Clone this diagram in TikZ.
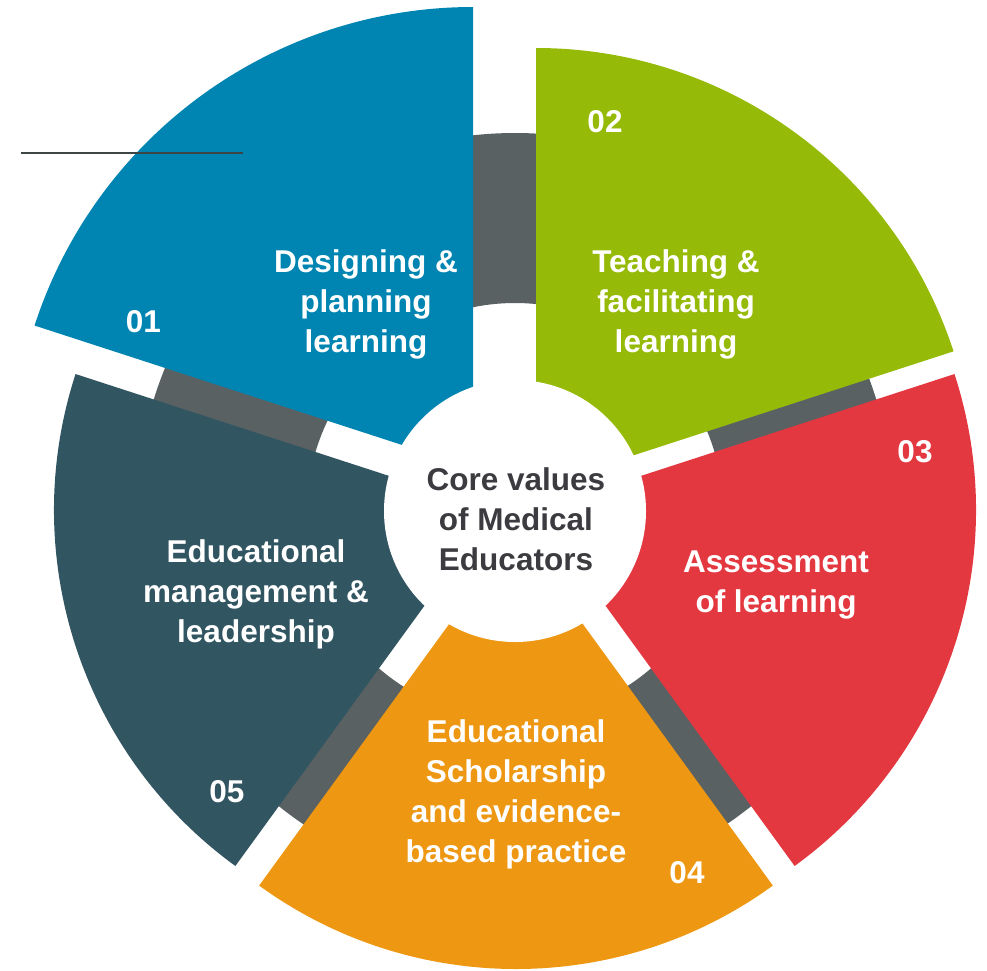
\documentclass[tikz,border=0pt]{standalone}
\usepackage{fontspec}
\setmainfont{Liberation Sans}
\definecolor{cblue}{HTML}{0085B2}
\definecolor{cgreen}{HTML}{96BA08}
\definecolor{cred}{HTML}{E43841}
\definecolor{corange}{HTML}{EE9712}
\definecolor{cteal}{HTML}{325562}
\definecolor{cgray}{HTML}{596163}
\definecolor{ctext}{HTML}{3B3B40}
\definecolor{cline}{HTML}{3D4545}
\begin{document}
\begin{tikzpicture}[x=1pt,y=-1pt,
  lbl/.style={text=white, font=\bfseries\fontsize{31.5}{40}\selectfont, align=center, inner sep=0pt, anchor=base},
  num/.style={text=white, font=\bfseries\fontsize{31.5}{40}\selectfont, inner sep=0pt, anchor=base}]
\useasboundingbox (0,0) rectangle (987,970);
\coordinate (C) at (515,511);
% gray ring behind the sectors
\fill[cgray, even odd rule] (C) circle[radius=378] (C) circle[radius=208];
% sectors (y axis points down, so visual angles are negated)
\coordinate (Pb) at (473,468);
\coordinate (Pg) at (536,487);
\coordinate (Pr) at (536,510);
\coordinate (Po) at (516,532);
\coordinate (Pt) at (494,510);
\fill[cblue]   (Pb) -- ++(-90:461)  arc[start angle=-90,  end angle=-162, radius=461] -- cycle;
\fill[cgreen]  (Pg) -- ++(-18:439)  arc[start angle=-18,  end angle=-90,  radius=439] -- cycle;
\fill[cred]    (Pr) -- ++(54:440)   arc[start angle=54,   end angle=-18,  radius=440] -- cycle;
\fill[corange] (Po) -- ++(-234:437) arc[start angle=-234, end angle=-306, radius=437] -- cycle;
\fill[cteal]   (Pt) -- ++(-162:440) arc[start angle=-162, end angle=-234, radius=440] -- cycle;
% centre disk
\fill[white] (C) circle[radius=131];
% top-left rule
\coordinate (L1) at (21,152.5);
\coordinate (L2) at (243,152.5);
\draw[cline, line width=2pt] (L1) -- (L2);
% labels (anchor=base is the baseline of the last line)
\node[lbl] (tb) at (366,352) {Designing \&\\planning\\learning};
\node[lbl] (tg) at (676,352) {Teaching \&\\facilitating\\learning};
\node[lbl] (tr) at (776,612) {Assessment\\of learning};
\node[lbl] (to) at (516,862) {Educational\\Scholarship\\and evidence-\\based practice};
\node[lbl] (tt) at (256,642) {Educational\\management \&\\leadership};
\node[lbl, text=ctext] (tc) at (516,570) {Core values\\of Medical\\Educators};
% numbers
\node[num] (n1) at (143.5,332) {01};
\node[num] (n2) at (605,132) {02};
\node[num] (n3) at (915,462) {03};
\node[num] (n4) at (687,883) {04};
\node[num] (n5) at (227,802) {05};
\end{tikzpicture}
\end{document}
